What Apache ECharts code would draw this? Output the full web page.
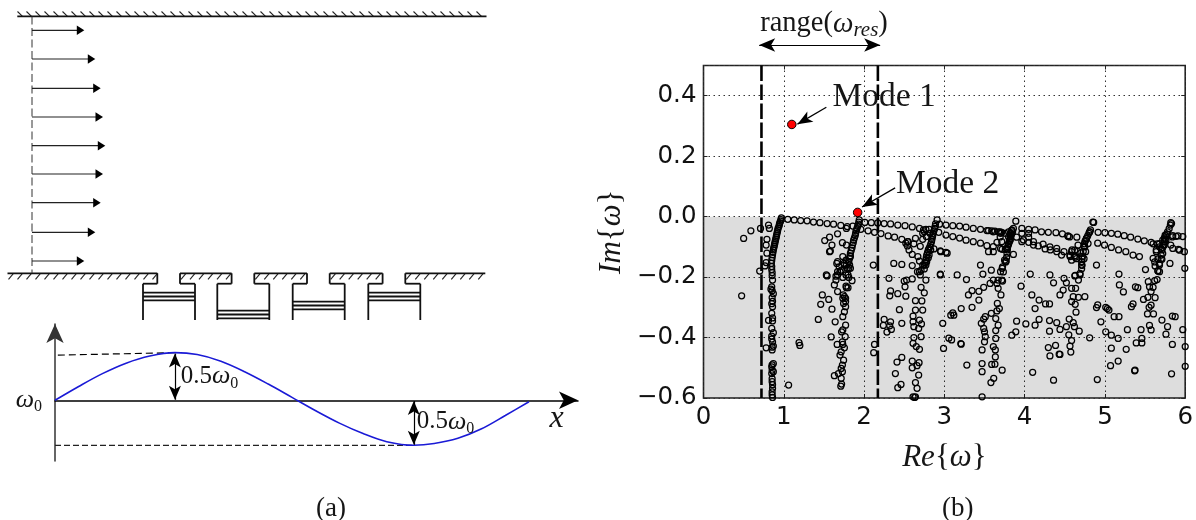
<!DOCTYPE html>
<html><head><meta charset="utf-8">
<style>html,body{margin:0;padding:0;background:#fff}#c{width:1196px;height:520px}</style>
<script src="https://cdn.jsdelivr.net/npm/echarts@6/dist/echarts.min.js"></script>
</head><body><div id="c"></div>
<script>
// ---- (b) spectrum: [Re, Im]
const unstableModes = [[1.10,0.305],[1.92,0.014]];
const resonanceRange = [0.722,2.172];
const xTicks = [0,1,2,3,4,5,6];
const ridge1 = [[.97,-.004],[.965,-.01],[.96,-.015],[.95,-.02],[.945,-.026],[.94,-.032],[.93,-.038],[.925,-.044],[.92,-.05],[.915,-.056],[.91,-.062],[.905,-.068],[.90,-.074],[.895,-.08],[.89,-.086],[.885,-.092],[.88,-.098],[.875,-.104],[.87,-.11],[.865,-.118],[.86,-.126],[.855,-.135],[.85,-.145],[.845,-.155],[.85,-.165],[.85,-.175],[.855,-.185],[.855,-.195],[.86,-.21],[.85,-.232],[.84,-.24],[.855,-.245],[.87,-.255],[.855,-.268],[.86,-.28],[.85,-.288],[.86,-.298],[.85,-.32],[.86,-.335],[.86,-.345],[.85,-.37],[.87,-.384],[.85,-.395],[.85,-.405],[.86,-.415],[.87,-.428],[.855,-.432],[.855,-.441],[.87,-.486],[.855,-.49],[.85,-.497],[.855,-.508],[.87,-.513],[.85,-.519],[.855,-.536],[.855,-.546],[.86,-.556],[.86,-.568],[.855,-.58],[.855,-.59],[.86,-.598]];
const ridge1Side = [[.50,-.072],[.59,-.047],[.71,-.039],[.81,-.028],[.82,-.039],[.79,-.075],[.78,-.094],[.79,-.121],[.78,-.152],[.765,-.163],[.70,-.18],[.475,-.262],[.81,-.343],[.78,-.434],[1.06,-.557],[1.19,-.417],[1.2,-.426]];
const ridge2 = [[1.94,-.011],[1.935,-.018],[1.93,-.025],[1.92,-.032],[1.91,-.04],[1.90,-.047],[1.895,-.055],[1.89,-.062],[1.88,-.07],[1.87,-.078],[1.865,-.086],[1.855,-.094],[1.85,-.103],[1.84,-.112],[1.83,-.121],[1.825,-.13],[1.82,-.138],[1.81,-.149],[1.78,-.16],[1.81,-.171],[1.74,-.259],[1.77,-.27],[1.745,-.287],[1.77,-.298],[1.755,-.315],[1.735,-.331],[1.77,-.359],[1.735,-.375],[1.72,-.381],[1.765,-.397],[1.73,-.414],[1.735,-.423],[1.755,-.434],[1.715,-.447],[1.70,-.458],[1.745,-.475],[1.73,-.491],[1.715,-.502],[1.68,-.519],[1.63,-.526],[1.73,-.513],[1.715,-.535],[1.71,-.561],[1.72,-.554],[1.805,-.149],[1.83,-.132],[1.775,-.144],[1.755,-.16],[1.82,-.16],[1.79,-.171],[1.715,-.177],[1.67,-.182],[1.735,-.201],[1.775,-.193],[1.81,-.201],[1.65,-.197],[1.775,-.23],[1.755,-.265],[1.735,-.27],[1.77,-.281]];
const ridge2Side = [[1.51,-.079],[1.57,-.068],[1.67,-.057],[1.78,-.039],[1.86,-.031],[1.60,-.094],[1.57,-.116],[1.58,-.114],[1.73,-.086],[1.78,-.094],[1.735,-.132],[1.67,-.149],[1.69,-.166],[1.66,-.155],[1.75,-.155],[1.83,-.171],[1.53,-.193],[1.54,-.196],[1.67,-.193],[1.70,-.182],[1.80,-.193],[1.85,-.212],[1.65,-.21],[1.63,-.226],[1.67,-.248],[1.78,-.235],[1.80,-.235],[1.48,-.259],[1.56,-.274],[1.46,-.29],[1.60,-.306],[1.43,-.34],[1.64,-.348],[1.59,-.398],[1.665,-.423],[2.115,-.16],[2.13,-.423],[2.12,-.45]];
const ridge3 = [[2.91,-.011],[2.89,-.024],[2.885,-.032],[2.88,-.039],[2.87,-.047],[2.86,-.055],[2.855,-.062],[2.85,-.068],[2.845,-.076],[2.84,-.083],[2.83,-.091],[2.82,-.099],[2.81,-.105],[2.8,-.11],[2.79,-.119],[2.78,-.127],[2.775,-.135],[2.77,-.143],[2.76,-.152],[2.75,-.16],[2.71,-.177],[2.665,-.182],[2.70,-.193],[2.77,-.21],[2.71,-.234],[2.75,-.252],[2.95,-.193],[2.74,-.044],[2.81,-.042],[2.73,-.075],[2.64,-.072],[2.55,-.083],[2.56,-.11],[2.6,-.125],[2.67,-.132],[2.69,-.147],[2.6,-.162],[2.8,-.136],[2.73,-.16],[2.77,-.16],[2.69,-.182],[2.75,-.173],[2.78,-.149],[2.81,-.127],[2.83,-.11],[2.75,-.05],[2.82,-.055],[2.775,-.066],[2.73,-.055],[2.52,-.088],[2.54,-.097]];
const ridge3Low = [[2.61,-.329],[2.64,-.278],[2.72,-.279],[2.73,-.309],[2.64,-.309],[2.61,-.348],[2.69,-.342],[2.715,-.355],[2.62,-.364],[2.68,-.37],[2.71,-.397],[2.62,-.4],[2.61,-.419],[2.65,-.43],[2.69,-.439],[2.60,-.478],[2.685,-.483],[2.66,-.493],[2.60,-.5],[2.68,-.524],[2.64,-.549],[2.66,-.568],[2.61,-.596],[2.64,-.596],[2.63,-.598]];
const gap23 = [[2.37,-.155],[2.47,-.158],[2.31,-.204],[2.5,-.213],[2.53,-.21],[2.6,-.206],[2.51,-.232],[2.33,-.246],[2.32,-.262],[2.42,-.255],[2.52,-.263],[2.44,-.308],[2.25,-.34],[2.24,-.36],[2.33,-.348],[2.32,-.361],[2.34,-.373],[2.285,-.382],[2.47,-.353],[2.47,-.466],[2.41,-.481],[2.39,-.519],[2.46,-.555],[2.42,-.566]];
const curveUpper = [[1.05,-.009],[1.13,-.011],[1.21,-.013],[1.29,-.014],[1.37,-.018],[1.45,-.02],[1.54,-.023],[1.62,-.025],[1.71,-.029],[1.79,-.033],[1.96,-.042],[2.05,-.047],[2.13,-.052],[2.21,-.056],[2.3,-.064],[2.38,-.068],[2.47,-.075],[2.54,-.083],[2.62,-.09],[2.7,-.098],[2.87,-.107],[2.95,-.113],[3.02,-.118]];
const curveSecond = [[2.01,-.019],[2.09,-.02],[2.17,-.021],[2.25,-.023],[2.33,-.024],[2.42,-.028],[2.51,-.03],[2.6,-.034],[2.69,-.039],[2.77,-.042],[2.94,-.025],[3.02,-.028],[3.105,-.03],[3.19,-.031],[3.27,-.035],[3.36,-.039],[3.45,-.042],[3.53,-.046],[3.61,-.05],[3.70,-.055],[3.965,-.039],[4.05,-.042],[4.13,-.044],[4.21,-.05],[4.295,-.052],[4.39,-.053],[4.47,-.057],[4.54,-.064],[4.65,-.068],[4.915,-.052],[5.0,-.053],[5.08,-.055],[5.16,-.058],[5.24,-.063],[5.32,-.068],[5.41,-.074],[5.49,-.08],[5.575,-.085],[5.65,-.09],[5.845,-.063],[5.91,-.064],[5.97,-.066]];
const curveThird = [[2.93,-.052],[3.02,-.061],[3.105,-.066],[3.19,-.071],[3.27,-.078],[3.36,-.083],[3.45,-.088],[3.53,-.096],[3.61,-.099],[3.70,-.105],[3.76,-.108],[3.90,-.068],[3.985,-.077],[4.05,-.085],[4.11,-.094],[4.17,-.097],[4.255,-.107],[4.32,-.11],[4.4,-.116],[4.46,-.127],[4.565,-.132],[4.63,-.134],[4.91,-.088],[4.995,-.094],[5.08,-.102],[5.17,-.11],[5.26,-.116],[5.35,-.127],[5.43,-.132],[5.845,-.105],[5.915,-.108],[5.99,-.116],[3.965,-.055],[4.05,-.055],[4.05,-.068],[3.965,-.083],[4.11,-.083],[4.23,-.091],[4.315,-.1],[4.4,-.105],[4.49,-.116],[4.585,-.116]];
const ridge4 = [[3.89,-.015],[3.86,-.039],[3.85,-.05],[3.84,-.056],[3.83,-.061],[3.825,-.067],[3.82,-.073],[3.815,-.078],[3.81,-.083],[3.80,-.091],[3.79,-.099],[3.785,-.11],[3.78,-.121],[3.775,-.135],[3.77,-.147],[3.76,-.149],[3.72,-.171],[3.70,-.182],[3.725,-.213],[3.67,-.21],[3.655,-.221],[3.67,-.237],[3.705,-.259],[3.66,-.287],[3.685,-.304],[3.655,-.312],[3.585,-.32],[3.51,-.331],[3.49,-.339],[3.46,-.353],[3.64,-.337],[3.67,-.359],[3.49,-.37],[3.50,-.381],[3.64,-.377],[3.51,-.397],[3.64,-.403],[3.50,-.414],[3.61,-.43],[3.47,-.441],[3.635,-.441],[3.635,-.464],[3.47,-.486],[3.59,-.489],[3.63,-.488],[3.47,-.513],[3.72,-.508],[3.615,-.535],[3.58,-.549],[3.47,-.596],[3.55,-.046],[3.59,-.047],[3.63,-.048],[3.675,-.05],[3.715,-.052],[3.76,-.055],[3.80,-.05],[3.84,-.045],[3.84,-.045],[3.82,-.056],[3.80,-.067],[3.82,-.078],[3.80,-.089],[3.78,-.105],[3.75,-.144],[3.765,-.15],[3.725,-.166],[3.735,-.183],[3.715,-.21],[3.695,-.05],[3.695,-.067],[3.715,-.083]];
const ridge4Side = [[3.28,-.491],[3.21,-.422],[3.205,-.42],[3.056,-.402],[3.09,-.408],[2.99,-.436],[2.98,-.353],[3.08,-.326],[3.105,-.318],[3.118,-.326],[3.21,-.304],[3.345,-.3],[3.43,-.276],[3.30,-.259],[3.345,-.245],[3.43,-.247],[3.49,-.234],[3.57,-.221],[3.61,-.21],[3.48,-.19],[3.585,-.177],[3.45,-.16],[3.16,-.193],[3.275,-.208],[2.95,-.19],[2.955,-.116],[3.035,-.121],[3.55,-.116],[3.61,-.116],[3.72,-.108],[3.655,-.085]];
const middle45 = [[3.86,-.125],[3.955,-.23],[4.09,-.259],[4.07,-.19],[4.315,-.193],[4.36,-.219],[4.18,-.276],[4.26,-.289],[4.31,-.289],[4.13,-.304],[3.90,-.346],[4.015,-.355],[4.13,-.359],[4.18,-.34],[4.31,-.344],[4.40,-.351],[4.31,-.379],[4.44,-.373],[3.89,-.381],[3.84,-.392],[4.10,-.515],[4.36,-.541],[4.295,-.433],[4.385,-.426],[4.315,-.461],[4.43,-.455],[4.44,-.456]];
const ridge5 = [[4.86,-.019],[4.82,-.044],[4.81,-.05],[4.80,-.055],[4.785,-.064],[4.77,-.072],[4.76,-.078],[4.75,-.083],[4.745,-.09],[4.74,-.099],[4.73,-.115],[4.72,-.132],[4.715,-.14],[4.71,-.149],[4.71,-.16],[4.69,-.193],[4.67,-.21],[4.625,-.196],[4.49,-.204],[4.52,-.219],[4.585,-.237],[4.635,-.237],[4.48,-.243],[4.44,-.259],[4.585,-.281],[4.605,-.265],[4.67,-.267],[4.75,-.265],[4.63,-.29],[4.64,-.316],[4.555,-.339],[4.605,-.351],[4.52,-.364],[4.62,-.364],[4.68,-.379],[4.55,-.391],[4.585,-.41],[4.565,-.428],[4.575,-.448],[4.81,-.401],[4.895,-.16],[4.59,-.11],[4.62,-.13],[4.66,-.115],[4.7,-.12],[4.85,-.018],[4.81,-.05],[4.77,-.072],[4.79,-.089],[4.75,-.1],[4.76,-.116],[4.74,-.139],[4.715,-.161],[4.71,-.172],[4.69,-.188],[4.63,-.194],[4.565,-.128],[4.585,-.144],[4.645,-.139],[4.625,-.111],[4.665,-.094],[4.56,-.067],[4.54,-.065]];
const right56 = [[4.895,-.301],[4.91,-.292],[4.95,-.348],[4.905,-.539],[5.01,-.3],[5.03,-.304],[5.05,-.309],[5.115,-.331],[5.175,-.331],[5.01,-.381],[5.08,-.392],[5.165,-.403],[5.08,-.435],[5.265,-.439],[5.07,-.493],[5.165,-.478],[5.37,-.51],[5.375,-.508],[5.28,-.374],[5.39,-.418],[5.46,-.418],[5.46,-.403],[5.45,-.374],[5.555,-.36],[5.575,-.375],[5.71,-.342],[5.78,-.364],[5.76,-.389],[5.84,-.423],[5.83,-.52],[5.97,-.374],[5.84,-.329],[5.875,-.331],[5.33,-.298],[5.35,-.289],[5.175,-.19],[5.18,-.226],[5.23,-.249],[5.38,-.232],[5.41,-.235],[5.505,-.175],[5.81,-.155],[5.995,-.171],[6.0,-.43],[6.0,-.495]];
const ridge6 = [[5.83,-.023],[5.815,-.028],[5.80,-.04],[5.78,-.05],[5.77,-.058],[5.76,-.064],[5.75,-.074],[5.74,-.083],[5.73,-.094],[5.72,-.102],[5.71,-.11],[5.70,-.127],[5.71,-.141],[5.68,-.155],[5.68,-.182],[5.64,-.11],[5.60,-.138],[5.625,-.163],[5.66,-.179],[5.65,-.208],[5.62,-.212],[5.54,-.215],[5.555,-.232],[5.60,-.234],[5.575,-.248],[5.535,-.267],[5.48,-.274],[5.625,-.268],[5.575,-.293],[5.55,-.3],[5.53,-.322],[5.605,-.322],[5.6,-.09],[5.68,-.1],[5.74,-.07],[5.66,-.14],[5.82,-.02],[5.75,-.061],[5.72,-.078],[5.76,-.078],[5.68,-.089],[5.74,-.094],[5.70,-.105],[5.64,-.116],[5.72,-.122],[5.62,-.15],[5.70,-.139],[5.68,-.16],[5.66,-.18],[5.885,-.065],[5.84,-.067],[5.82,-.094],[5.93,-.111]];
const spectrumGroups = [ridge1,ridge1Side,ridge2,ridge2Side,ridge3,ridge3Low,gap23,curveUpper,curveSecond,curveThird,ridge4,ridge4Side,middle45,ridge5,right56,ridge6];

// ---- (a) wall frequency along the cavities, deviation from omega_0
const wavePos = [0,.05,.1,.15,.2,.253,.3,.35,.4,.45,.5,.55,.6,.65,.7,.757,.8,.85,.9,.95,1];
const waveDev = [0,.145,.28,.39,.465,.5,.48,.41,.30,.17,.03,-.11,-.24,-.35,-.435,-.473,-.455,-.40,-.30,-.16,-.015];

// ---- (a) inlet velocity profile: height in the channel, speed
const profileHeights = [30.3,59,88.3,117,145.7,174,202.7,232.3,261];
const profileSpeeds = [52.3,63.3,68.7,71,73.3,71,68.7,63.3,52.3];

// ---- (a) cavities: left edge of each, depth of the piston inside it
const cavityLefts = [143,217.3,292.7,368.3];
const pistonDepths = [292.7,310.7,301.7,292.7];

const SERIF = '"Liberation Serif","DejaVu Serif",serif';
const TICKFONT = '"DejaVu Sans",sans-serif';
const INK = '#161616';

// Wall outline from the cavity list
function wallRows(){
  const yW=273.3, yL=283.7, yB=320, r=[], h=[];
  const open=[[7.5,157.3]];
  cavityLefts.forEach((x,i)=>{
    const neckL=x+14.3, neckR=x+37, right=x+52;
    r.push([neckL,yW,neckL,yL],[neckL,yL,x,yL],[x,yL,x,yB]);
    r.push([right,yB,right,yL],[right,yL,neckR,yL],[neckR,yL,neckR,yW]);
    const next=i<cavityLefts.length-1?cavityLefts[i+1]+14.3:485.3;
    open.push([neckR,next]);
    const d=pistonDepths[i];
    r.push([x,d,right,d],[x,d+3.8,right,d+3.8],[x,d+7.6,right,d+7.6]);
  });
  open.forEach(o=>{
    r.push([o[0],yW,o[1],yW]);
    for(let s=o[0]+1;s+5<=o[1]+1;s+=9) h.push([s,yW+6,s+5,yW]);
  });
  r.push([17.3,16.3,486.5,16.3]);
  for(let s=17.5;s<482;s+=9) h.push([s,11.5,s+5,16.3]);
  return {walls:r,hatch:h};
}
const wr=wallRows();
function segments(rows,w,color,dash){
  return {type:'custom',xAxisIndex:0,yAxisIndex:0,silent:true,clip:false,data:rows,
    renderItem(p,api){
      const a=api.coord([api.value(0),api.value(1)]),b=api.coord([api.value(2),api.value(3)]);
      return {type:'line',shape:{x1:a[0],y1:a[1],x2:b[0],y2:b[1]},
        style:{stroke:color,lineWidth:w,lineDash:dash||null,fill:null}};
    }};
}
const profileArrows={type:'custom',xAxisIndex:0,yAxisIndex:0,silent:true,clip:false,
  data:profileHeights.map((h,i)=>[h,profileSpeeds[i]]),
  renderItem(p,api){
    const a=api.coord([32,api.value(0)]),b=api.coord([32+api.value(1),api.value(0)]);
    return {type:'group',children:[
      {type:'line',shape:{x1:a[0],y1:a[1],x2:b[0]-6,y2:b[1]},style:{stroke:'#222',lineWidth:1.2}},
      {type:'polygon',shape:{points:[[b[0],b[1]],[b[0]-7.5,b[1]-4.8],[b[0]-7.5,b[1]+4.8]]},style:{fill:'#000'}}
    ]};
  }};

const waveLabels=[[.326,.248,'{n|0.5}{i|ω}{s|0}'],[.824,-.225,'{n|0.5}{i|ω}{s|0}']];
const mathRich={n:{fontFamily:SERIF,fontSize:25,color:INK},i:{fontFamily:SERIF,fontStyle:'italic',fontSize:26,color:INK},
  s:{fontFamily:SERIF,fontSize:16,color:INK,verticalAlign:'bottom',lineHeight:30}};
function labelSeries(xi,yi,rows,extra){
  return {type:'scatter',xAxisIndex:xi,yAxisIndex:yi,symbolSize:0,silent:true,z:6,clip:false,data:rows,
    itemStyle:{opacity:1},
    label:Object.assign({show:true,position:'inside',align:'center',verticalAlign:'middle',
      formatter:p=>p.data[2],rich:mathRich},extra||{})};
}
const hidden={show:false};
const nameRich={i:{fontFamily:SERIF,fontStyle:'italic',fontSize:31,color:INK},u:{fontFamily:SERIF,fontSize:31,color:INK}};
const option={
  animation:false,backgroundColor:'#fff',
  grid:[
    {left:0,top:0,width:520,height:330},
    {left:55,top:324,width:523,height:137},
    {left:703.5,top:65.5,width:484,height:332.5,show:true,borderColor:'#222',borderWidth:1.6,backgroundColor:'transparent'},
    {left:703.5,top:0,width:484,height:60}
  ],
  xAxis:[
    Object.assign({type:'value',gridIndex:0,min:0,max:520},hidden),
    {type:'value',gridIndex:1,min:0,max:1.1034,axisLine:{show:true,onZero:true,symbol:['none','arrow'],symbolSize:[13,19],lineStyle:{color:'#000',width:1.5}},axisTick:{show:false},axisLabel:{show:false},splitLine:{show:false}},
    {type:'value',gridIndex:2,min:0,max:6,interval:1,axisLine:{show:false,onZero:false},
      axisTick:{show:true,inside:true,length:4,lineStyle:{color:'#222'}},
      axisLabel:{show:true,margin:7,fontFamily:TICKFONT,fontSize:24.5,color:'#111',formatter:v=>xTicks.includes(v)?String(v):''},
      splitLine:{show:true,lineStyle:{type:[1.5,3.5],color:'#333',width:1}},
      name:'{i|Re}{u|{}{i|ω}}',nameLocation:'middle',nameGap:44,
      nameTextStyle:{fontFamily:SERIF,fontSize:31,color:INK,rich:nameRich}},
    {type:'value',gridIndex:2,position:'top',min:0,max:6,interval:1,axisLine:{show:false,onZero:false},axisTick:{show:true,inside:true,length:4,lineStyle:{color:'#222'}},axisLabel:{show:false},splitLine:{show:false}},
    Object.assign({type:'value',gridIndex:3,min:0,max:6},hidden)
  ],
  yAxis:[
    Object.assign({type:'value',gridIndex:0,min:0,max:330,inverse:true},hidden),
    {type:'value',gridIndex:1,min:-.638,max:.801,axisLine:{show:true,onZero:false,symbol:['none','arrow'],symbolSize:[13,19],lineStyle:{color:'#333',width:1.5}},axisTick:{show:false},splitLine:{show:false},
      axisLabel:{show:true,customValues:[0],margin:13,formatter:()=>'{i|ω}{s|0}',rich:mathRich}},
    {type:'value',gridIndex:2,min:-.6,max:.5,interval:.2,axisLine:{show:false,onZero:false},
      axisTick:{show:true,inside:true,length:4,lineStyle:{color:'#222'}},
      axisLabel:{show:true,margin:7,showMaxLabel:false,fontFamily:TICKFONT,fontSize:24.5,color:'#111',
        formatter:v=>v>.45?'':v.toFixed(1).replace('-','−')},
      splitLine:{show:true,lineStyle:{type:[1.5,3.5],color:'#333',width:1}},
      name:'{i|Im}{u|{}{i|ω}}',nameLocation:'middle',nameGap:76,
      nameTextStyle:{fontFamily:SERIF,fontSize:31,color:INK,rich:nameRich}},
    {type:'value',gridIndex:2,position:'right',min:-.6,max:.5,interval:.2,axisLine:{show:false,onZero:false},axisTick:{show:true,inside:true,length:4,lineStyle:{color:'#222'}},axisLabel:{show:false},splitLine:{show:false}},
    Object.assign({type:'value',gridIndex:3,min:0,max:60,inverse:true},hidden)
  ],
  series:[
    segments(wr.hatch,1.1,'#222'),
    segments(wr.walls,1.8,'#111'),
    segments([[32,16.5,32,273]],1,'#333',[8,3.5]),
    profileArrows,
    // wave
    {type:'line',xAxisIndex:1,yAxisIndex:1,silent:true,symbol:'none',z:3,lineStyle:{color:'#000',width:1.2,type:[7,4]},data:[[.006,.474],[.253,.5]]},
    {type:'line',xAxisIndex:1,yAxisIndex:1,silent:true,symbol:'none',z:3,lineStyle:{color:'#222',width:1.2,type:[6,3]},data:[[0,-.473],[.757,-.473]]},
    {type:'line',xAxisIndex:1,yAxisIndex:1,silent:true,symbol:'none',smooth:.35,z:4,lineStyle:{color:'#1a1ad6',width:1.6},
      data:wavePos.map((x,i)=>[x,waveDev[i]]),
      markLine:{silent:true,animation:false,symbol:['arrow','arrow'],symbolSize:[9,14],label:{show:false},lineStyle:{color:'#000',width:1.2,type:'solid'},
        data:[[{coord:[.253,.49]},{coord:[.253,.005]}],[{coord:[.757,-.008]},{coord:[.757,-.468]}]]}},
    labelSeries(1,1,waveLabels),
    labelSeries(1,1,[[1.058,-.197,'x']],{formatter:p=>p.data[2],fontFamily:SERIF,fontStyle:'italic',fontSize:32,color:INK}),
    // spectrum
    {type:'scatter',name:'spectrum',xAxisIndex:2,yAxisIndex:2,silent:true,symbol:'circle',symbolSize:6,z:3,
      itemStyle:{color:'transparent',borderColor:'#000',borderWidth:1.25,opacity:1},
      data:spectrumGroups.flat(),
      markArea:{silent:true,itemStyle:{color:'rgba(0,0,0,0.135)'},data:[[{coord:[0,0]},{coord:[6,-.6]}]]}},
    ...resonanceRange.map(r=>({type:'line',xAxisIndex:2,yAxisIndex:2,silent:true,symbol:'none',z:4,lineStyle:{color:'#000',width:2.6,type:[15.5,3.5]},data:[[r,.5],[r,-.6]]})),
    {type:'scatter',name:'unstable',xAxisIndex:2,yAxisIndex:2,silent:true,symbol:'circle',symbolSize:8.5,z:6,
      itemStyle:{color:'#f00',borderColor:'#000',borderWidth:1,opacity:1},data:unstableModes,
      markLine:{silent:true,animation:false,symbol:['none','arrow'],symbolSize:[9,15],label:{show:false},lineStyle:{color:'#000',width:1.3,type:'solid'},
        data:[[{coord:[1.53,.362]},{coord:[1.17,.306]}],[{coord:[2.387,.095]},{coord:[1.975,.032]}]]}},
    labelSeries(2,2,[[2.25,.396,'Mode 1'],[3.04,.108,'Mode 2']],{fontFamily:SERIF,fontSize:33.5,color:INK}),
    // range bracket above the plot
    {type:'line',xAxisIndex:4,yAxisIndex:4,silent:true,symbol:'none',z:3,lineStyle:{opacity:0},data:[[.69,45],[2.19,45]],
      markLine:{silent:true,animation:false,symbol:['arrow','arrow'],symbolSize:[10,16],label:{show:false},lineStyle:{color:'#000',width:1.2,type:'solid'},
        data:[[{coord:[.69,45]},{coord:[2.19,45]}]]}},
    labelSeries(4,4,[[1.494,24,'{n|range(}{i|ω}{r|res}{n|)}']],{rich:{n:{fontFamily:SERIF,fontSize:28.5,color:INK},i:{fontFamily:SERIF,fontStyle:'italic',fontSize:29,color:INK},
      r:{fontFamily:SERIF,fontStyle:'italic',fontSize:21,color:INK,verticalAlign:'bottom',lineHeight:33}}})
  ],
  graphic:[
    {type:'text',left:316,top:495,style:{text:'(a)',fontFamily:SERIF,fontSize:27,fill:INK}},
    {type:'text',left:942,top:495,style:{text:'(b)',fontFamily:SERIF,fontSize:27,fill:INK}}
  ]
};
echarts.init(document.getElementById('c')).setOption(option);
</script></body></html>
